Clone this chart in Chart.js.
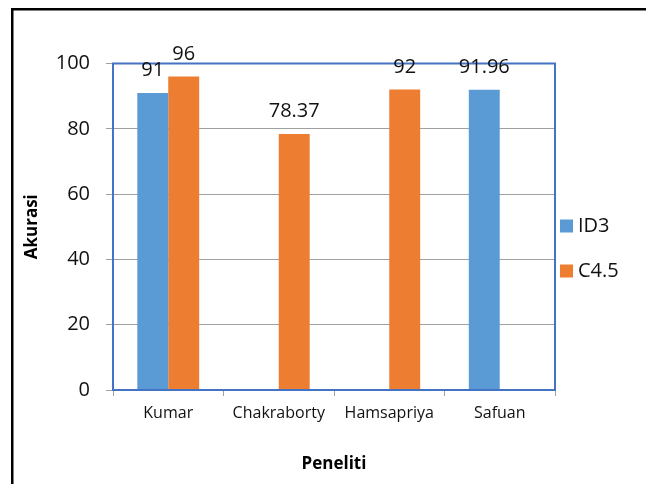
<!DOCTYPE html>
<html>
<head>
<meta charset="utf-8">
<script src="https://cdn.jsdelivr.net/npm/chart.js@4.4.1/dist/chart.umd.min.js"></script>
<style>
  html, body { margin: 0; padding: 0; background: #ffffff; }
  #wrap { width: 646px; height: 484px; position: relative; }
</style>
</head>
<body>
<div id="wrap"><canvas id="c" width="646" height="484"></canvas></div>
<script>
// Researchers compared and the accuracy each reported
const categories = ['Kumar', 'Chakraborty', 'Hamsapriya', 'Safuan'];
const id3Values = [91, null, null, 91.96];
const c45Values = [96, 78.37, 92, null];
const yTicks = [0, 20, 40, 60, 80, 100];

const FONT = "'Open Sans', Lato, sans-serif";
const BLUE = '#5B9BD5';
const ORANGE = '#ED7D31';
const FRAME_BLUE = '#4472C4';
const GRID = '#A0A0A0';
const TEXT = '#111111';

// Outer frame around the whole figure
const framePlugin = {
  id: 'frame',
  beforeDraw(chart) {
    const ctx = chart.ctx;
    ctx.save();
    ctx.fillStyle = '#ffffff';
    ctx.fillRect(0, 0, chart.width, chart.height);
    ctx.strokeStyle = '#000000';
    ctx.lineWidth = 2.5;
    ctx.strokeRect(12.25, 9.25, 800, 600);
    ctx.restore();
  }
};

// Blue border around the plotting area
const plotBorderPlugin = {
  id: 'plotBorder',
  afterDatasetsDraw(chart) {
    const { ctx, chartArea: a } = chart;
    ctx.save();
    ctx.strokeStyle = FRAME_BLUE;
    ctx.lineWidth = 2;
    ctx.strokeRect(a.left, a.top, a.right - a.left, a.bottom - a.top);
    ctx.restore();
  }
};

// Value labels above each bar
const valueLabelPlugin = {
  id: 'valueLabels',
  afterDatasetsDraw(chart) {
    const ctx = chart.ctx;
    ctx.save();
    ctx.font = '20px ' + FONT;
    ctx.fillStyle = TEXT;
    ctx.textAlign = 'center';
    ctx.textBaseline = 'alphabetic';
    chart.data.datasets.forEach((ds, di) => {
      const meta = chart.getDatasetMeta(di);
      meta.data.forEach((bar, i) => {
        const v = ds.data[i];
        if (v === null || v === undefined) return;
        ctx.fillText(String(v), bar.x, bar.y - 17);
      });
    });
    ctx.restore();
  }
};

// Legend at the right of the plot
const sideLegendPlugin = {
  id: 'sideLegend',
  afterDraw(chart) {
    const ctx = chart.ctx;
    const a = chart.chartArea;
    ctx.save();
    ctx.font = '20px ' + FONT;
    ctx.textBaseline = 'middle';
    ctx.textAlign = 'left';
    const rows = [226, 271];
    chart.data.datasets.forEach((ds, i) => {
      const y = rows[i];
      ctx.fillStyle = ds.backgroundColor;
      ctx.fillRect(a.right + 5, y - 6.5, 13, 13);
      ctx.fillStyle = TEXT;
      ctx.fillText(ds.label, a.right + 23, y);
    });
    ctx.restore();
  }
};

new Chart(document.getElementById('c'), {
  type: 'bar',
  data: {
    labels: categories,
    datasets: [
      { label: 'ID3', data: id3Values, backgroundColor: BLUE,
        categoryPercentage: 0.56, barPercentage: 1.0 },
      { label: 'C4.5', data: c45Values, backgroundColor: ORANGE,
        categoryPercentage: 0.56, barPercentage: 1.0 }
    ]
  },
  options: {
    responsive: false,
    animation: false,
    devicePixelRatio: 1,
    layout: { padding: { left: 0, right: 91, top: 63.5, bottom: 0 } },
    plugins: {
      legend: { display: false },
      tooltip: { enabled: false }
    },
    scales: {
      x: {
        grid: {
          display: true,
          drawOnChartArea: false,
          drawTicks: true,
          tickLength: 6,
          color: GRID,
          offset: true
        },
        border: { display: true, color: GRID, width: 1 },
        ticks: {
          color: TEXT,
          font: { family: FONT, size: 16 },
          padding: 8,
          maxRotation: 0,
          autoSkip: false
        },
        title: {
          display: true,
          text: 'Peneliti',
          color: '#000000',
          font: { family: FONT, size: 17, weight: 'bold' },
          padding: { top: 0, bottom: 10 }
        },
        afterFit(scale) { scale.height = 94; }
      },
      y: {
        min: 0,
        max: 100,
        afterBuildTicks(scale) { scale.ticks = yTicks.map(v => ({ value: v })); },
        grid: {
          color: GRID,
          lineWidth: 1,
          drawTicks: true,
          tickLength: 7
        },
        border: { display: false },
        ticks: {
          color: TEXT,
          font: { family: FONT, size: 20 },
          padding: 16
        },
        title: {
          display: true,
          text: 'Akurasi',
          color: '#000000',
          font: { family: FONT, size: 17, weight: 'bold' },
          padding: { top: 22, bottom: 0 }
        },
        afterFit(scale) { scale.width = 113; }
      }
    }
  },
  plugins: [framePlugin, plotBorderPlugin, valueLabelPlugin, sideLegendPlugin]
});
</script>
</body>
</html>
